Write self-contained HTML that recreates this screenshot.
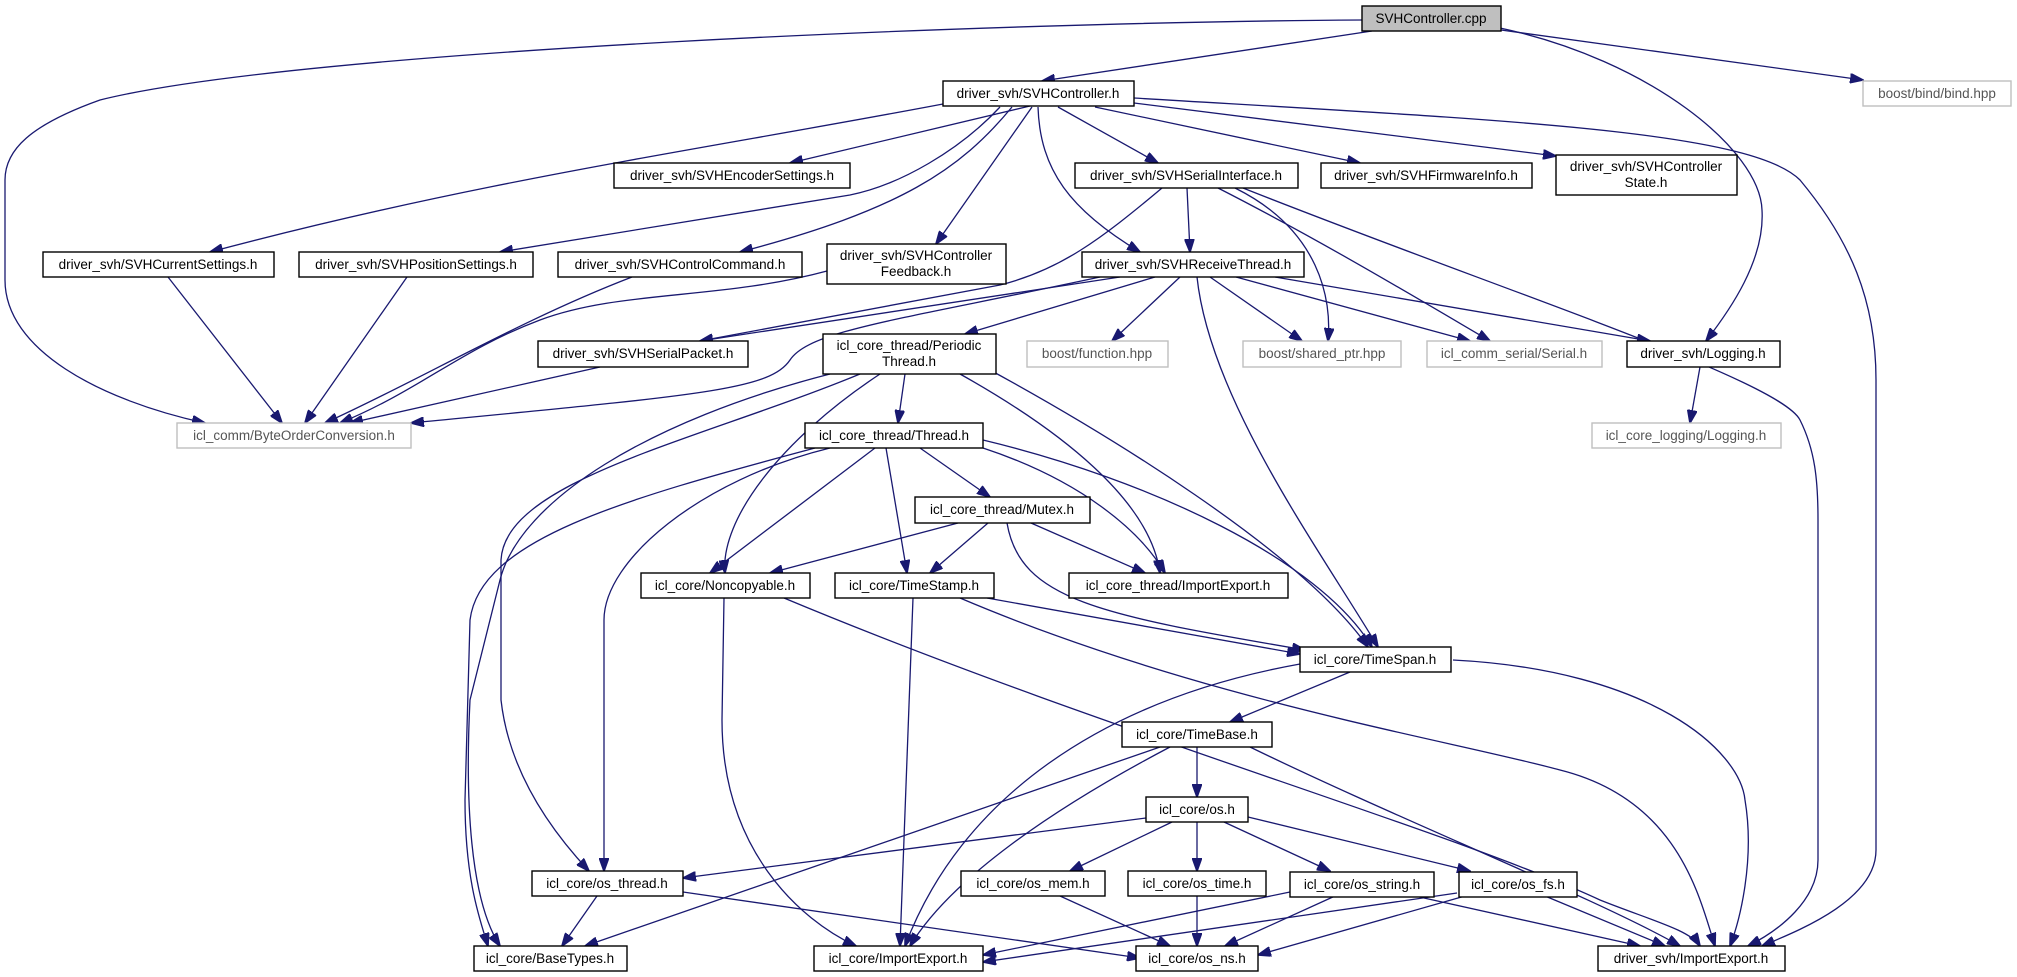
<!DOCTYPE html>
<html><head><meta charset="utf-8"><style>
html,body{margin:0;padding:0;background:#fff;}
svg{display:block;}
text{font-family:"Liberation Sans",sans-serif;font-size:13.5px;fill:#000;text-anchor:middle;}
.n{fill:#fff;stroke:#000;stroke-width:1.4;}
.g{fill:#fff;stroke:#bfbfbf;stroke-width:1.4;}
.e{fill:none;stroke:#191970;stroke-width:1.3;}
</style></head><body>
<svg width="2017" height="977" viewBox="0 0 2017 977" xmlns="http://www.w3.org/2000/svg">
<defs><marker id="a" markerWidth="14" markerHeight="10" refX="13" refY="5" orient="auto" markerUnits="userSpaceOnUse"><path d="M0,0 L14,5 L0,10 z" fill="#191970" stroke="#191970"/></marker></defs>
<g marker-end="url(#a)">
<!-- cpp -->
<path class="e" d="M1372,31 L1042,81"/>
<path class="e" d="M1362,20 C1000,22 300,50 100,100 C30,125 5,150 5,180 L5,280 C5,350 100,400 205,423"/>
<path class="e" d="M1500,28 C1650,60 1760,150 1762,210 C1765,260 1730,310 1706,341"/>
<path class="e" d="M1501,30 L1863,80"/>
<!-- SVHController.h -->
<path class="e" d="M1030,106 L790,163"/>
<path class="e" d="M943,104 C700,150 480,180 210,252"/>
<path class="e" d="M1000,107 C960,150 900,185 850,195 L500,252"/>
<path class="e" d="M1012,107 C960,170 900,210 740,252"/>
<path class="e" d="M1032,107 L936,244"/>
<path class="e" d="M1058,107 L1158,163"/>
<path class="e" d="M1038,107 C1040,170 1070,210 1140,252"/>
<path class="e" d="M1095,107 L1360,163"/>
<path class="e" d="M1134,103 L1556,156"/>
<path class="e" d="M1134,98 C1500,120 1750,130 1800,180 C1850,240 1876,300 1876,380 L1876,850 C1876,900 1800,930 1762,946"/>
<!-- SerialInterface -->
<path class="e" d="M1187,188 L1190,252"/>
<path class="e" d="M1162,188 C1100,240 1060,270 1000,285 L700,341"/>
<path class="e" d="M1235,188 C1320,230 1332,300 1328,341"/>
<path class="e" d="M1218,188 C1320,240 1420,300 1490,341"/>
<path class="e" d="M1243,188 C1500,290 1780,380 1800,420 C1815,450 1818,480 1818,520 L1818,860 C1818,900 1780,930 1748,946"/>
<!-- ReceiveThread -->
<path class="e" d="M1120,277 L700,341"/>
<path class="e" d="M1155,277 L965,334"/>
<path class="e" d="M1100,277 C900,320 810,330 790,360 C770,390 700,395 411,423"/>
<path class="e" d="M1180,277 L1112,341"/>
<path class="e" d="M1210,277 L1302,341"/>
<path class="e" d="M1236,277 L1470,341"/>
<path class="e" d="M1275,277 L1650,341"/>
<path class="e" d="M1197,277 C1210,400 1320,550 1378,647"/>
<!-- misc -->
<path class="e" d="M1700,367 L1690,423"/>
<path class="e" d="M600,367 L350,423"/>
<path class="e" d="M168,277 L282,423"/>
<path class="e" d="M407,277 L305,423"/>
<path class="e" d="M632,277 C520,320 420,380 325,423"/>
<path class="e" d="M827,271 C720,300 620,290 540,320 C460,350 420,390 340,423"/>
<!-- PeriodicThread -->
<path class="e" d="M905,374 L898,423"/>
<path class="e" d="M830,374 C650,420 520,500 500,580 L470,700 C465,800 470,900 500,946"/>
<path class="e" d="M860,374 C700,440 505,480 501,560 L501,700 C510,780 560,840 589,871"/>
<path class="e" d="M880,374 C780,440 720,520 725,573"/>
<path class="e" d="M960,374 C1060,430 1150,500 1160,573"/>
<path class="e" d="M990,370 C1100,430 1300,550 1368,647"/>
<!-- Thread.h -->
<path class="e" d="M920,448 L990,497"/>
<path class="e" d="M875,448 L710,573"/>
<path class="e" d="M886,448 L907,573"/>
<path class="e" d="M983,448 C1080,480 1140,530 1165,573"/>
<path class="e" d="M983,440 C1150,480 1320,560 1372,647"/>
<path class="e" d="M830,448 C700,480 604,560 604,620 L604,871"/>
<path class="e" d="M815,448 C620,500 480,540 470,620 L465,800 C465,880 480,920 488,946"/>
<!-- Mutex -->
<path class="e" d="M958,523 L770,573"/>
<path class="e" d="M988,523 L930,573"/>
<path class="e" d="M1031,523 L1145,573"/>
<path class="e" d="M1007,523 C1020,600 1100,615 1305,650"/>
<!-- Noncopyable -->
<path class="e" d="M724,598 L722,720 C722,850 800,920 856,946"/>
<path class="e" d="M784,598 C1100,730 1450,830 1600,900 C1650,920 1690,930 1700,946"/>
<!-- TimeStamp -->
<path class="e" d="M913,598 L900,946"/>
<path class="e" d="M987,598 L1300,654"/>
<path class="e" d="M960,598 C1200,700 1450,740 1560,770 C1680,800 1700,900 1715,946"/>
<!-- TimeSpan -->
<path class="e" d="M1350,672 L1230,722"/>
<path class="e" d="M1300,664 C1100,700 960,800 905,946"/>
<path class="e" d="M1453,660 C1650,670 1740,750 1745,800 C1755,860 1740,920 1730,946"/>
<!-- TimeBase -->
<path class="e" d="M1197,747 L1197,797"/>
<path class="e" d="M1160,747 L585,946"/>
<path class="e" d="M1170,747 C1050,810 950,880 910,946"/>
<path class="e" d="M1250,747 C1400,820 1600,900 1680,946"/>
<!-- os.h -->
<path class="e" d="M1146,818 L683,878"/>
<path class="e" d="M1172,822 L1070,871"/>
<path class="e" d="M1197,822 L1197,871"/>
<path class="e" d="M1224,822 L1330,871"/>
<path class="e" d="M1248,817 L1470,871"/>
<!-- bottom -->
<path class="e" d="M597,896 L562,946"/>
<path class="e" d="M683,892 L1140,958"/>
<path class="e" d="M1060,896 L1170,946"/>
<path class="e" d="M1197,896 L1197,946"/>
<path class="e" d="M1290,892 L983,955"/>
<path class="e" d="M1335,896 L1225,946"/>
<path class="e" d="M1415,896 L1640,946"/>
<path class="e" d="M1457,893 L983,962"/>
<path class="e" d="M1465,896 L1258,955"/>
<path class="e" d="M1545,896 L1665,946"/>
</g>
<!-- nodes -->
<rect x="1362" y="6" width="139" height="25" fill="#bfbfbf" stroke="#000" stroke-width="1.4"/><text x="1431" y="23">SVHController.cpp</text>
<rect class="n" x="943" y="81" width="191" height="25"/><text x="1038" y="98">driver_svh/SVHController.h</text>
<rect class="g" x="1863" y="81" width="148" height="25"/><text x="1937" y="98" style="fill:#555">boost/bind/bind.hpp</text>
<rect class="n" x="614" y="163" width="236" height="25"/><text x="732" y="180">driver_svh/SVHEncoderSettings.h</text>
<rect class="n" x="1075" y="163" width="223" height="25"/><text x="1186" y="180">driver_svh/SVHSerialInterface.h</text>
<rect class="n" x="1321" y="163" width="211" height="25"/><text x="1426" y="180">driver_svh/SVHFirmwareInfo.h</text>
<rect class="n" x="1556" y="155" width="181" height="40"/><text x="1646" y="171">driver_svh/SVHController</text><text x="1646" y="187">State.h</text>
<rect class="n" x="43" y="252" width="231" height="25"/><text x="158" y="269">driver_svh/SVHCurrentSettings.h</text>
<rect class="n" x="299" y="252" width="234" height="25"/><text x="416" y="269">driver_svh/SVHPositionSettings.h</text>
<rect class="n" x="558" y="252" width="244" height="25"/><text x="680" y="269">driver_svh/SVHControlCommand.h</text>
<rect class="n" x="827" y="244" width="179" height="40"/><text x="916" y="260">driver_svh/SVHController</text><text x="916" y="276">Feedback.h</text>
<rect class="n" x="1082" y="252" width="222" height="25"/><text x="1193" y="269">driver_svh/SVHReceiveThread.h</text>
<rect class="n" x="538" y="341" width="210" height="26"/><text x="643" y="358">driver_svh/SVHSerialPacket.h</text>
<rect class="n" x="823" y="334" width="173" height="40"/><text x="909" y="350">icl_core_thread/Periodic</text><text x="909" y="366">Thread.h</text>
<rect class="g" x="1027" y="341" width="141" height="26"/><text x="1097" y="358" style="fill:#555">boost/function.hpp</text>
<rect class="g" x="1243" y="341" width="158" height="26"/><text x="1322" y="358" style="fill:#555">boost/shared_ptr.hpp</text>
<rect class="g" x="1427" y="341" width="175" height="26"/><text x="1514" y="358" style="fill:#555">icl_comm_serial/Serial.h</text>
<rect class="n" x="1627" y="341" width="153" height="26"/><text x="1703" y="358">driver_svh/Logging.h</text>
<rect class="g" x="177" y="423" width="234" height="25"/><text x="294" y="440" style="fill:#555">icl_comm/ByteOrderConversion.h</text>
<rect class="n" x="805" y="423" width="178" height="25"/><text x="894" y="440">icl_core_thread/Thread.h</text>
<rect class="g" x="1592" y="423" width="189" height="25"/><text x="1686" y="440" style="fill:#555">icl_core_logging/Logging.h</text>
<rect class="n" x="915" y="497" width="175" height="26"/><text x="1002" y="514">icl_core_thread/Mutex.h</text>
<rect class="n" x="641" y="573" width="169" height="25"/><text x="725" y="590">icl_core/Noncopyable.h</text>
<rect class="n" x="835" y="573" width="159" height="25"/><text x="914" y="590">icl_core/TimeStamp.h</text>
<rect class="n" x="1069" y="573" width="219" height="25"/><text x="1178" y="590">icl_core_thread/ImportExport.h</text>
<rect class="n" x="1300" y="647" width="151" height="25"/><text x="1375" y="664">icl_core/TimeSpan.h</text>
<rect class="n" x="1122" y="722" width="150" height="25"/><text x="1197" y="739">icl_core/TimeBase.h</text>
<rect class="n" x="1146" y="797" width="102" height="25"/><text x="1197" y="814">icl_core/os.h</text>
<rect class="n" x="532" y="871" width="151" height="25"/><text x="607" y="888">icl_core/os_thread.h</text>
<rect class="n" x="961" y="871" width="144" height="25"/><text x="1033" y="888">icl_core/os_mem.h</text>
<rect class="n" x="1128" y="871" width="138" height="25"/><text x="1197" y="888">icl_core/os_time.h</text>
<rect class="n" x="1290" y="872" width="144" height="25"/><text x="1362" y="889">icl_core/os_string.h</text>
<rect class="n" x="1459" y="872" width="118" height="25"/><text x="1518" y="889">icl_core/os_fs.h</text>
<rect class="n" x="474" y="946" width="153" height="25"/><text x="550" y="963">icl_core/BaseTypes.h</text>
<rect class="n" x="814" y="946" width="169" height="25"/><text x="898" y="963">icl_core/ImportExport.h</text>
<rect class="n" x="1136" y="946" width="122" height="25"/><text x="1197" y="963">icl_core/os_ns.h</text>
<rect class="n" x="1598" y="946" width="187" height="25"/><text x="1691" y="963">driver_svh/ImportExport.h</text>
</svg>
</body></html>
